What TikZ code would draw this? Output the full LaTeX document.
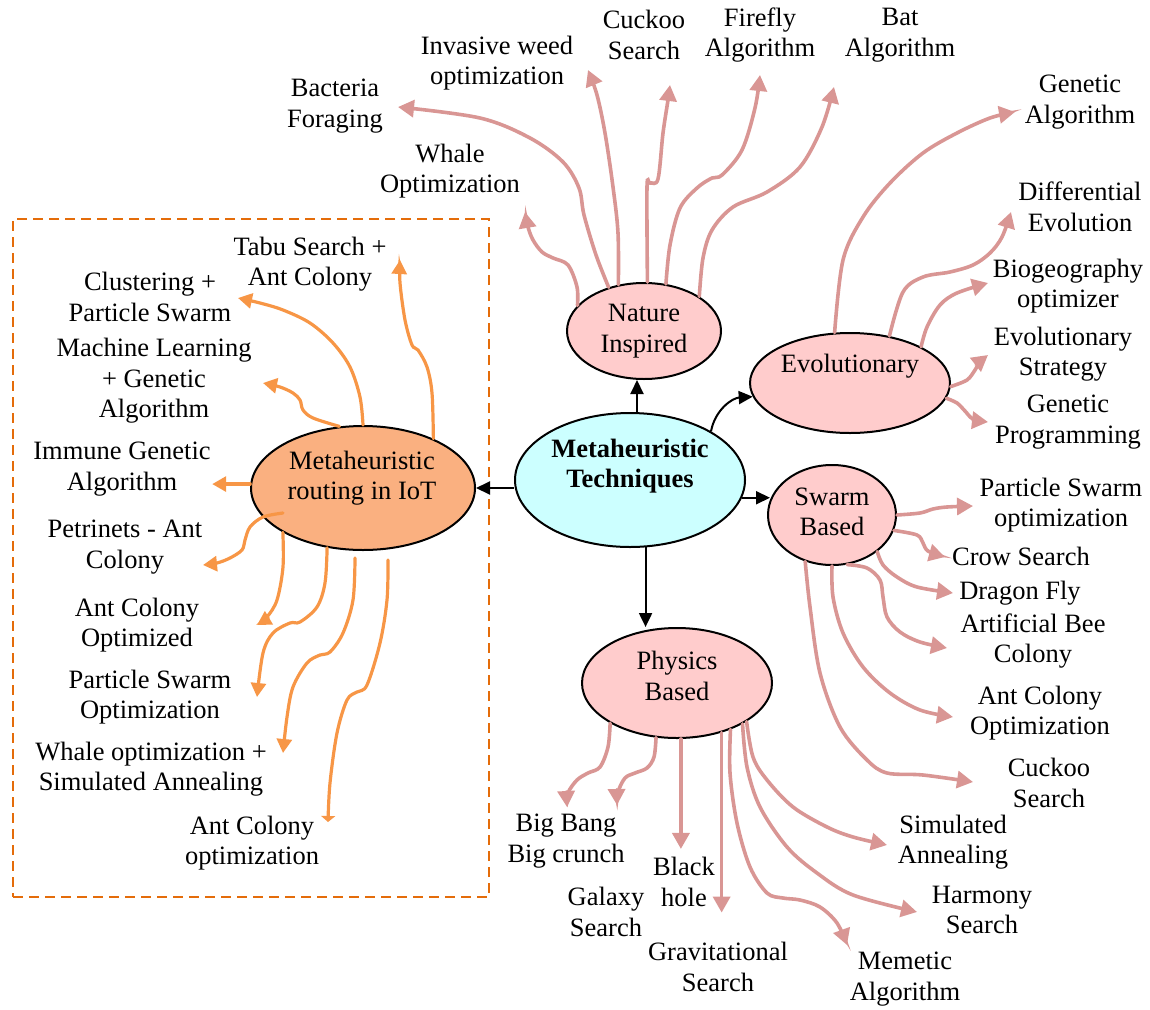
\documentclass[tikz,border=0pt]{standalone}
\usepackage{fontspec}
\setmainfont{Liberation Serif}
\usetikzlibrary{shapes.geometric,arrows.meta,calc}

\definecolor{pinkline}{RGB}{217,150,148}
\definecolor{orangeline}{RGB}{247,150,70}
\definecolor{boxline}{RGB}{228,108,10}
\definecolor{pinkfill}{RGB}{255,204,204}
\definecolor{cyanfill}{RGB}{204,255,255}
\definecolor{routefill}{RGB}{250,176,128}

\begin{document}
\begin{tikzpicture}[x=1pt,y=-1pt,
  every node/.style={font=\fontsize{26.5}{30.5}\selectfont},
  lbl/.style={align=center, inner sep=0pt},
  oval/.style={ellipse, draw=black, line width=2pt, inner sep=0pt},
  pk/.style={draw=pinkline, line width=3.6pt, line cap=round, -{Triangle[length=16pt,width=17pt]}},
  og/.style={draw=orangeline, line width=3.2pt, line cap=round, -{Triangle[length=14pt,width=15pt]}},
  blk/.style={draw=black, line width=2pt, -{Triangle[length=14pt,width=13pt]}},
  sm/.style={smooth, tension=0.55},
]
\useasboundingbox (0,0) rectangle (1150,1009);

% dashed frame around the IoT routing group
\node[draw=boxline, line width=2.5pt, dash pattern=on 10pt off 6pt,
      minimum width=476pt, minimum height=678pt, inner sep=0pt] (grp) at (251,558) {};

% ovals
\node[oval, fill=cyanfill, minimum width=230pt, minimum height=134pt] (mt) at (630,480) {};
\node[oval, fill=pinkfill, minimum width=154pt, minimum height=96pt] (nat) at (644,331) {};
\node[oval, fill=pinkfill, minimum width=200pt, minimum height=100pt] (evo) at (850,383) {};
\node[oval, fill=pinkfill, minimum width=128pt, minimum height=100pt] (sw) at (832,515) {};
\node[oval, fill=pinkfill, minimum width=190pt, minimum height=110pt] (ph) at (677,683) {};
\node[oval, fill=routefill, minimum width=224pt, minimum height=124pt] (rt) at (363,488) {};

% oval captions
\node[lbl, font=\fontsize{26.5}{30.5}\selectfont\bfseries] (mt-t) at (630,466) {Metaheuristic\\Techniques};
\node[lbl] (nat-t) at (644,331) {Nature\\Inspired};
\node[lbl] (evo-t) at (850,366) {Evolutionary};
\node[lbl] (sw-t) at (832,512) {Swarm\\Based};
\node[lbl] (ph-t) at (677,676) {Physics\\Based};
\node[lbl] (rt-t) at (362,478) {Metaheuristic\\routing in IoT};

% nature inspired leaves
\node[lbl] (bact) at (335,106) {Bacteria\\Foraging};
\node[lbl] (weed) at (497,63) {Invasive weed\\optimization};
\node[lbl] (cuck) at (644,35) {Cuckoo\\Search};
\node[lbl] (fire) at (760,35) {Firefly\\Algorithm};
\node[lbl] (bat) at (900,35) {Bat\\Algorithm};
\node[lbl] (whale) at (450,171) {Whale\\Optimization};

% evolutionary leaves
\node[lbl] (ga) at (1080,102) {Genetic\\Algorithm};
\node[lbl] (de) at (1080,207) {Differential\\Evolution};
\node[lbl] (bio) at (1068,286) {Biogeography\\optimizer};
\node[lbl] (es) at (1063,354) {Evolutionary\\Strategy};
\node[lbl] (gp) at (1068,422) {Genetic\\Programming};

% swarm leaves
\node[lbl] (pso) at (1061,505) {Particle Swarm\\optimization};
\node[lbl] (crow) at (1021,556) {Crow Search};
\node[lbl] (dfly) at (1020,593) {Dragon Fly};
\node[lbl] (abc) at (1033,641) {Artificial Bee\\Colony};
\node[lbl] (aco) at (1040,713) {Ant Colony\\Optimization};
\node[lbl] (cuck2) at (1049,783) {Cuckoo\\Search};

% physics leaves
\node[lbl] (bbbc) at (566,841) {Big Bang\\Big crunch};
\node[lbl] (gal) at (606,912) {Galaxy\\Search};
\node[lbl] (bh) at (684,882) {Black\\hole};
\node[lbl] (grav) at (718,967) {Gravitational\\Search};
\node[lbl] (mem) at (905,979) {Memetic\\Algorithm};
\node[lbl] (harm) at (982,910) {Harmony\\Search};
\node[lbl] (sa) at (953,842) {Simulated\\Annealing};

% routing leaves
\node[lbl] (tabu) at (310,264) {Tabu Search +\\Ant Colony};
\node[lbl] (clus) at (150,297) {Clustering +\\Particle Swarm};
\node[lbl] (mlga) at (154,381) {Machine Learning\\+ Genetic\\Algorithm};
\node[lbl] (iga) at (122,469) {Immune Genetic\\Algorithm};
\node[lbl] (petri) at (125,547) {Petrinets - Ant\\Colony};
\node[lbl] (acoo) at (137,625) {Ant Colony\\Optimized};
\node[lbl] (psoo) at (150,697) {Particle Swarm\\Optimization};
\node[lbl] (wsa) at (151,769) {Whale optimization +\\Simulated Annealing};
\node[lbl] (acol) at (252,843) {Ant Colony\\optimization};

% main branches
\draw[blk] ($(mt.north)+(7,0)$) -- ($(nat.south)+(-7,0)$);
\draw[blk] (mt.31) .. controls (715,410) and (732,398) .. (evo.188);
\draw[blk] (mt.-9) -- ($(mt.-9 -| sw.west)+(3,0)$);
\draw[blk] (rt.east -| mt.west) -- (rt.east);
\draw[blk] (mt.-77) -- (mt.-77 |- ph.north);

% nature inspired branches
\draw[pk] plot[sm] coordinates {(nat.129) (596,255) (584,215) (579,188) (563,162) (530,138) (480,118) (398,107)};
\draw[pk] plot[sm] coordinates {(nat.159) (577,287) (568,265) (553,258) (542,252) (533,240) (528,227) (525,212)};
\draw[pk] plot[sm] coordinates {(nat.119) (618,233) (613,187) (605,133) (597,95) (588,70)};
\draw[pk] plot[sm] coordinates {(nat.86) (647,187) (650,183) (658,179) (663,133) (668,100) (670,85)};
\draw[pk] plot[sm] coordinates {(nat.65) (670,245) (680,208) (697,188) (712,178) (722,175) (742,150) (755,108) (760,75)};
\draw[pk] plot[sm] coordinates {(nat.32) (703,258) (712,230) (733,207) (767,192) (800,167) (822,127) (834,87)};

% evolutionary branches
\draw[pk] plot[sm] coordinates {(evo.107) (843,260) (863,217) (890,183) (923,153) (957,133) (990,118) (1015,112)};
\draw[pk] plot[sm] coordinates {(evo.50) (903,292) (923,277) (950,272) (973,265) (990,253) (1002,237) (1011,212)};
\draw[pk] plot[sm] coordinates {(evo.27) (927,327) (940,305) (957,293) (988,283)};
\draw[pk] plot[sm] coordinates {(evo.-2) (967,380) (975,370) (980,362) (988,355)};
\draw[pk] plot[sm] coordinates {(evo.-9) (957,403) (965,411) (973,419) (988,422)};

% swarm branches
\draw[pk] plot[sm] coordinates {(sw.east) (920,513) (933,509) (947,507) (973,506)};
\draw[pk] plot[sm] coordinates {(sw.-14) (917,535) (923,543) (928,551) (945,557)};
\draw[pk] plot[sm] coordinates {(sw.-39) (883,565) (897,577) (917,587) (953,593)};
\draw[pk] plot[sm] coordinates {(sw.-73) (867,568) (880,580) (883,597) (887,617) (900,632) (920,642) (947,648)};
\draw[pk] plot[sm] coordinates {(sw.south) (833,597) (843,633) (863,667) (890,693) (920,710) (953,717)};
\draw[pk] plot[sm] coordinates {(sw.-120) (810,607) (820,673) (840,727) (867,760) (887,773) (923,775) (973,782)};

% physics branches
\draw[pk] plot[sm] coordinates {(ph.211) (608,747) (600,767) (588,773) (577,780) (568,793) (567,807)};
\draw[pk] plot[sm] coordinates {(ph.-111) (654,757) (647,768) (635,773) (625,778) (618,792) (617,805)};
\draw[pk] (ph.-86) -- ++(0,110);
\draw[pk] (ph.-48) -- ++(0,180);
\draw[pk] plot[sm] coordinates {(ph.-41) (730,773) (737,823) (750,867) (767,893) (783,898) (800,900) (820,907) (837,923) (847,945)};
\draw[pk] plot[sm] coordinates {(ph.-32) (747,767) (760,807) (787,847) (817,873) (853,895) (917,912)};
\draw[pk] plot[sm] coordinates {(ph.-29) (753,757) (767,780) (793,807) (827,827) (853,837) (887,845)};

% routing branches
\draw[og] plot[sm] coordinates {(rt.35) (432,393) (427,367) (418,350) (412,345) (405,320) (400,283) (400,260)};
\draw[og] plot[sm] coordinates {(rt.north) (360,397) (350,367) (333,343) (310,323) (283,310) (260,303) (238,298)};
\draw[og] plot[sm] coordinates {(rt.111) (313,418) (303,410) (300,400) (293,393) (280,387) (263,383)};
\draw[og] (rt.178) -- ++(-38,0);
\draw[og] plot[sm] coordinates {($(rt.center)+(-80,25)$) (263,517) (250,527) (245,540) (242,550) (230,558) (217,563) (203,565)};
\draw[og] plot[sm] coordinates {(rt.209) (283,567) (277,600) (267,617) (257,625)};
\draw[og] plot[sm] coordinates {(rt.-121) (325,583) (317,607) (300,622) (290,623) (273,633) (263,653) (257,697)};
\draw[og] plot[sm] coordinates {($(rt.south)+(-8,7)$) (353,600) (343,633) (330,652) (320,655) (307,663) (293,687) (287,717) (283,753)};
\draw[og, -{Triangle[length=6pt,width=14pt]}] plot[sm] coordinates {($(rt.south)+(25,9)$) (387,600) (380,643) (367,685) (357,692) (347,700) (337,733) (330,783) (328,822)};
\end{tikzpicture}
\end{document}
